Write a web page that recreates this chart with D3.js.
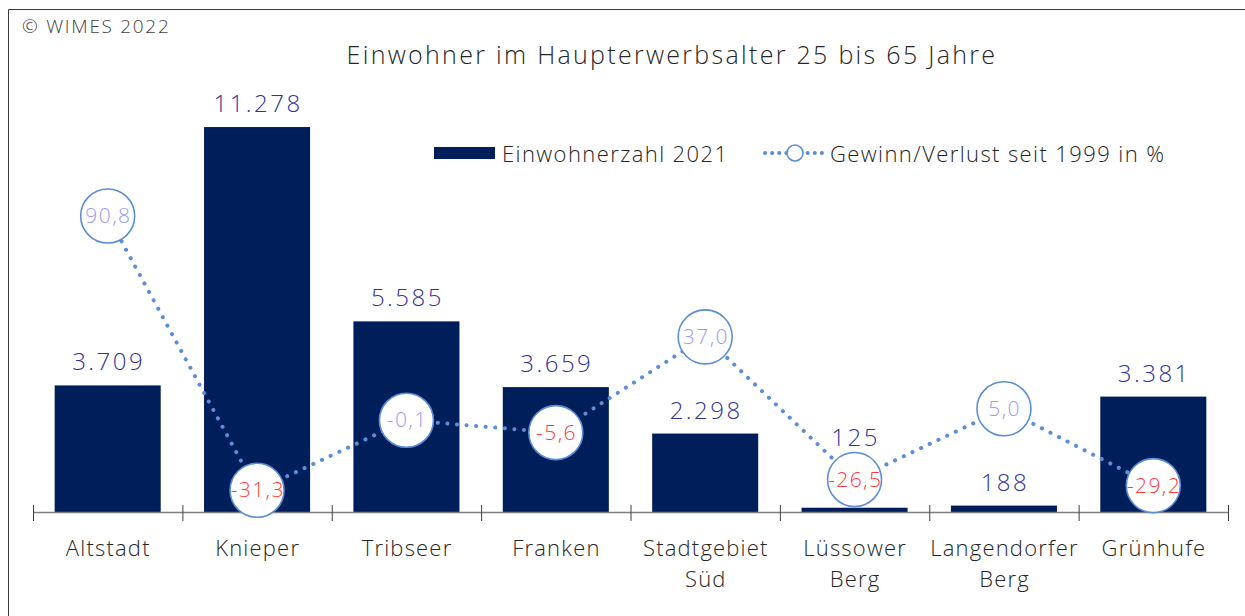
<!DOCTYPE html>
<html><head><meta charset="utf-8">
<script src="https://cdn.jsdelivr.net/npm/d3@7"></script>
<style>
html,body{margin:0;padding:0;background:#fff;}
text{font-family:"Open Sans","Noto Sans",sans-serif;font-weight:300;}
</style></head>
<body>
<svg id="chart" width="1245" height="616"></svg>
<script>
const categories = [["Altstadt"],["Knieper"],["Tribseer"],["Franken"],["Stadtgebiet","Süd"],["Lüssower","Berg"],["Langendorfer","Berg"],["Grünhufe"]];
const einwohner = [3709, 11278, 5585, 3659, 2298, 125, 188, 3381];
const einwohnerLabels = ["3.709","11.278","5.585","3.659","2.298","125","188","3.381"];
const veraenderung = [90.8, -31.3, -0.1, -5.6, 37.0, -26.5, 5.0, -29.2];
const veraenderungLabels = ["90,8","-31,3","-0,1","-5,6","37,0","-26,5","5,0","-29,2"];
const labelIsRed = [false, true, false, true, false, true, false, true];

const svg = d3.select("#chart");

// frame
svg.append("path").attr("d","M8.5,616 L8.5,9.5 L1245,9.5").attr("fill","none").attr("stroke","#3a3a3a").attr("stroke-width",1);

svg.append("text").attr("x",22).attr("y",33).attr("font-size",19).attr("letter-spacing",1.7).attr("fill","#404040").text("© WIMES 2022");
svg.append("text").attr("x",672).attr("y",64).attr("text-anchor","middle").attr("font-size",25).attr("letter-spacing",2.3).attr("fill","#262626").text("Einwohner im Haupterwerbsalter 25 bis 65 Jahre");

const x = d3.scaleBand().domain(d3.range(categories.length)).range([33,1228]).paddingInner(0.29).paddingOuter(0.145);
const y = d3.scaleLinear().domain([0,15000]).range([512,0]);
const y2 = d3.scaleLinear().domain([0,90.8]).range([420,216]);
const R = 27;

// bars
svg.append("g").selectAll("rect").data(einwohner).join("rect")
  .attr("x",(d,i)=>x(i)).attr("width",x.bandwidth())
  .attr("y",d=>y(d)).attr("height",d=>y(0)-y(d)).attr("fill","#001E5A");

// bar value labels; lifted above the marker circle when they would collide
function labelY(d,i){
  let ly = y(d)-15;
  const cy = y2(veraenderung[i]);
  if (cy > ly - 20 && ly > cy - R - 7) ly = cy - R - 7;
  return ly;
}
svg.append("g").selectAll("text").data(einwohner).join("text")
  .attr("x",(d,i)=>x(i)+x.bandwidth()/2+1).attr("y",labelY)
  .attr("text-anchor","middle").attr("font-size",24).attr("letter-spacing",2.5).attr("fill","#333399")
  .text((d,i)=>einwohnerLabels[i]);

// axis
const step = x.step();
const axisG = svg.append("g");
axisG.append("line").attr("x1",33).attr("x2",1228).attr("y1",512.5).attr("y2",512.5).attr("stroke","#808080").attr("stroke-width",1.5);
axisG.selectAll("line.tick").data(d3.range(categories.length+1)).join("line").attr("class","tick")
  .attr("x1",i=>33.5+i*step).attr("x2",i=>33.5+i*step).attr("y1",505).attr("y2",521).attr("stroke","#404040").attr("stroke-width",1);
const catG = axisG.selectAll("text.cat").data(categories).join("text").attr("class","cat")
  .attr("text-anchor","middle").attr("font-size",22).attr("letter-spacing",1.2).attr("fill","#262626")
  .attr("transform",(d,i)=>`translate(${x(i)+x.bandwidth()/2+0.6},556)`);
catG.selectAll("tspan").data(d=>d).join("tspan").attr("x",0).attr("dy",(d,j)=>j===0?0:31).text(d=>d);

// line
const cx = i => x(i)+x.bandwidth()/2;
const line = d3.line().x((d,i)=>cx(i)).y(d=>y2(d));
svg.append("path").datum(veraenderung).attr("d",line).attr("fill","none")
  .attr("stroke","#5B8ED6").attr("stroke-width",4).attr("stroke-linecap","round").attr("stroke-dasharray","0.1 9.5");

const pts = svg.append("g").selectAll("g").data(veraenderung).join("g")
  .attr("transform",(d,i)=>`translate(${cx(i)},${y2(d)})`);
pts.append("circle").attr("r",R).attr("fill","#fff").attr("stroke","#5B8ED6").attr("stroke-width",1.6);
pts.append("text").attr("text-anchor","middle").attr("x",0.7).attr("y",7).attr("font-size",21).attr("letter-spacing",1.4)
  .attr("fill",(d,i)=>labelIsRed[i]?"#FF3B3B":"#9C9CF2").text((d,i)=>veraenderungLabels[i]);

// legend
const lg = svg.append("g");
lg.append("rect").attr("x",434).attr("y",147).attr("width",61).attr("height",12).attr("fill","#001E5A");
lg.append("text").attr("x",502).attr("y",162).attr("font-size",22).attr("letter-spacing",1.4).attr("fill","#262626").text("Einwohnerzahl 2021");
lg.append("line").attr("x1",765).attr("x2",826).attr("y1",153).attr("y2",153).attr("stroke","#5B8ED6").attr("stroke-width",4).attr("stroke-linecap","round").attr("stroke-dasharray","0.1 7");
lg.append("circle").attr("cx",795).attr("cy",153).attr("r",8).attr("fill","#fff").attr("stroke","#5B8ED6").attr("stroke-width",1.6);
lg.append("text").attr("x",830).attr("y",162).attr("font-size",22).attr("letter-spacing",1.4).attr("fill","#262626").text("Gewinn/Verlust seit 1999 in %");
</script>
</body></html>
